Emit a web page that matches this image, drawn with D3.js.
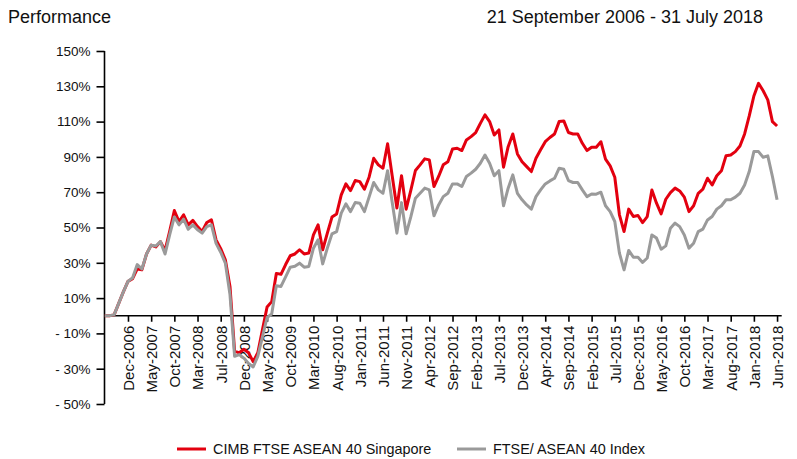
<!DOCTYPE html>
<html>
<head>
<meta charset="utf-8">
<script src="https://cdn.jsdelivr.net/npm/d3@7/dist/d3.min.js"></script>
<style>
  html, body { margin: 0; padding: 0; background: #fff; }
  svg { display: block; font-family: "Liberation Sans", Arial, sans-serif; }
</style>
</head>
<body>
<svg id="chart" width="797" height="459"></svg>
<script>
// ---- Data (cumulative performance, %) ----
const seriesNames = ["CIMB FTSE ASEAN 40 Singapore", "FTSE/ ASEAN 40 Index"];
const fundValues = [
  0, 0, 0.5, 7, 13.5, 19.5, 21, 26.5, 26, 35,
  40, 39, 42, 37, 48, 59.6, 53.4, 57.2, 51.5, 54,
  50.5, 47.7, 52.8, 54.3, 43, 38, 31.7, 16.6, -20, -21,
  -19, -21, -26, -21, -8, 5, 8, 24, 23.5, 29,
  34, 35, 37.4, 35, 35.5, 45.8, 51.5, 37.4, 46.8, 55.9,
  57.7, 68.5, 74.7, 70.9, 76.6, 76, 71.7, 78.5, 89.2, 85.5,
  83.6, 97.4, 79, 61, 79.3, 60.4, 71, 82.3, 85.5, 88.9,
  88.3, 73.2, 78.9, 85.5, 87.3, 94.5, 94.9, 93.6, 99.6, 101.5,
  103.8, 109, 113.8, 110, 102.4, 105.3, 84.2, 95.8, 103, 91.7,
  87.3, 84.5, 81.7, 89.2, 94, 98.6, 101, 103, 110, 110.4,
  103.8, 103, 103, 97.7, 93.6, 95.5, 95.5, 98.6, 88.7, 84.9,
  78.5, 57.2, 47.7, 60.4, 56.2, 56.8, 52.8, 56.2, 71.3, 63.8,
  57.7, 66, 69.8, 72.3, 70.7, 67.2, 59, 62.3, 69.4, 71.7,
  77.9, 74.1, 79.3, 82.1, 90.7, 91.1, 93, 96.2, 103, 113.2,
  124.5, 131.7, 127.5, 122.3, 110, 107.5
];
const indexValues = [
  0, 0, 0.5, 7, 13.5, 19.5, 21.5, 29, 26.5, 35,
  40, 39.5, 42, 35, 46, 56, 51.5, 54.7, 49, 51.5,
  48.7, 46.8, 50.5, 51.5, 41, 36, 29.8, 12, -23, -22,
  -24, -27, -29, -23, -12, -1, 1, 17, 16.6, 22,
  27.5, 28, 29.8, 27.5, 27.9, 38.3, 43, 29.4, 38.3, 46.4,
  47.7, 58.1, 63.4, 59, 64.1, 63.8, 59, 67.2, 75.5, 71.3,
  69.4, 82.2, 64, 46.8, 64.1, 46.4, 56, 66.6, 69.4, 72.3,
  71.3, 56.6, 62.8, 67.5, 69.4, 74.7, 74.7, 73.2, 78.9, 80.8,
  83, 86.4, 91.1, 86.4, 79.3, 82.2, 62.3, 72.3, 79.8, 69.4,
  65.7, 62.8, 60.4, 67.5, 71.3, 74.7, 76.4, 77.9, 83.6, 83,
  76.6, 75.5, 75.5, 71.3, 67.5, 69, 68.9, 70, 62.3, 59,
  53.4, 35.5, 26, 37, 33.2, 33.2, 30.2, 32.7, 45.8, 44,
  37.7, 39.6, 49.6, 52.5, 50.5, 45.8, 38.3, 41.1, 47.7, 49.1,
  54.3, 56.2, 60.4, 62.3, 65.7, 65.7, 67.2, 69.4, 74.1, 81.7,
  93, 93, 89.8, 90.6, 78.9, 65.7
];
const xTickLabels = [
  "Dec-2006", "May-2007", "Oct-2007", "Mar-2008", "Jul-2008", "Dec-2008",
  "May-2009", "Oct-2009", "Mar-2010", "Aug-2010", "Jan-2011", "Jun-2011",
  "Nov-2011", "Apr-2012", "Sep-2012", "Feb-2013", "Jul-2013", "Dec-2013",
  "Apr-2014", "Sep-2014", "Feb-2015", "Jul-2015", "Dec-2015", "May-2016",
  "Oct-2016", "Mar-2017", "Aug-2017", "Jan-2018", "Jun-2018"
];
const yTickValues = [-50, -30, -10, 10, 30, 50, 70, 90, 110, 130, 150];
const titleLeft = "Performance";
const titleRight = "21 September 2006 - 31 July 2018";
const colors = ["#e3000f", "#9a9a9a"];

// ---- Layout ----
const svg = d3.select("#chart");
const nPts = fundValues.length;
const x = d3.scaleLinear().domain([0, nPts]).range([104.8, 781.7]);
const y = d3.scaleLinear().domain([-50, 150]).range([404, 51]);
const tickIdx = xTickLabels.map((_, i) => 5 + i * 5);

// Titles
svg.append("text").attr("x", 8).attr("y", 23)
  .attr("font-size", 18).attr("fill", "#111").text(titleLeft);
svg.append("text").attr("x", 763).attr("y", 23).attr("text-anchor", "end")
  .attr("font-size", 18).attr("fill", "#111").text(titleRight);

// Y axis
const yAxis = d3.axisLeft(y).tickValues(yTickValues).tickSize(8).tickPadding(6)
  .tickFormat(d => d < 0 ? "- " + Math.abs(d) + "%" : d + "%");
const gy = svg.append("g").attr("transform", "translate(104.5,0)").call(yAxis);
gy.select(".domain").attr("stroke", "#000").attr("stroke-width", 1.6).attr("d", `M0,${y(-50)}V${y(150)}`);
gy.selectAll(".tick line").attr("stroke", "#000").attr("stroke-width", 1.6);
gy.selectAll(".tick text").attr("font-size", 13.5).attr("fill", "#111")
  .attr("font-family", "Liberation Sans, Arial, sans-serif");

// X axis at 0%
const xAxis = d3.axisBottom(x).tickValues(tickIdx).tickSize(6)
  .tickFormat((d, i) => xTickLabels[i]);
const gx = svg.append("g").attr("transform", `translate(0,${y(0)})`).call(xAxis);
gx.select(".domain").attr("stroke", "#000").attr("stroke-width", 1.6)
  .attr("d", `M${x(0) - 0.5},0H${x(nPts)}`);
gx.selectAll(".tick line").attr("stroke", "#000").attr("stroke-width", 1.6);
gx.selectAll(".tick text")
  .attr("font-size", 15).attr("fill", "#111")
  .attr("font-family", "Liberation Sans, Arial, sans-serif")
  .attr("transform", "rotate(-90)")
  .attr("x", -10).attr("y", 0).attr("dy", "0.36em")
  .style("text-anchor", "end");

// Lines
const line = d3.line().x((d, i) => x(i)).y(d => y(d)).curve(d3.curveLinear);
svg.append("path").datum(fundValues).attr("d", line)
  .attr("fill", "none").attr("stroke", colors[0]).attr("stroke-width", 3)
  .attr("stroke-linejoin", "round");
svg.append("path").datum(indexValues).attr("d", line)
  .attr("fill", "none").attr("stroke", colors[1]).attr("stroke-width", 3)
  .attr("stroke-linejoin", "round");

// Legend
const legendItems = [
  { name: seriesNames[0], color: colors[0], x: 177 },
  { name: seriesNames[1], color: colors[1], x: 457 }
];
const lg = svg.append("g");
legendItems.forEach(it => {
  lg.append("line").attr("x1", it.x).attr("x2", it.x + 29)
    .attr("y1", 449).attr("y2", 449)
    .attr("stroke", it.color).attr("stroke-width", 3);
  lg.append("text").attr("x", it.x + 36).attr("y", 454)
    .attr("font-size", 14.4).attr("fill", "#111").text(it.name);
});
</script>
</body>
</html>
